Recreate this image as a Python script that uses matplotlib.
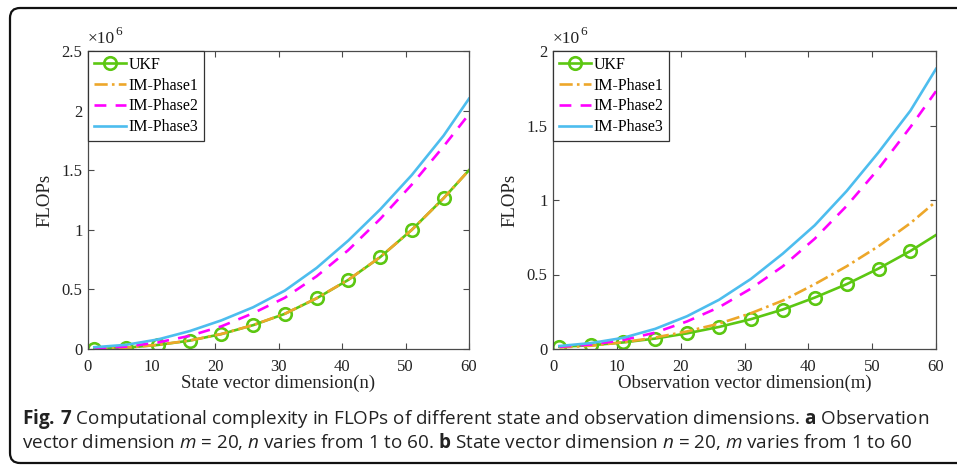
import matplotlib as mpl
mpl.use('Agg')
import matplotlib.pyplot as plt
from matplotlib.patches import FancyBboxPatch
from matplotlib.transforms import IdentityTransform

W, H = 957, 465

dim = [1, 6, 11, 16, 21, 26, 31, 36, 41, 46, 51, 56, 60]

# (a) m = 20, n varies -- FLOPs in units of 1e6
ukf_a = [0.0, 0.011, 0.034, 0.07, 0.125, 0.2, 0.295, 0.425, 0.58, 0.77, 1.0, 1.265, 1.5]
ph1_a = [0.0, 0.011, 0.035, 0.071, 0.126, 0.201, 0.296, 0.426, 0.581, 0.771, 1.0, 1.265, 1.5]
ph2_a = [0.005, 0.02, 0.055, 0.11, 0.19, 0.3, 0.43, 0.61, 0.83, 1.09, 1.38, 1.7, 1.97]
ph3_a = [0.015, 0.035, 0.08, 0.15, 0.24, 0.35, 0.49, 0.68, 0.91, 1.17, 1.46, 1.79, 2.1]

# (b) n = 20, m varies -- FLOPs in units of 1e6
ukf_b = [0.015, 0.025, 0.044, 0.07, 0.105, 0.148, 0.2, 0.265, 0.345, 0.435, 0.54, 0.658, 0.765]
ph1_b = [0.01, 0.022, 0.045, 0.077, 0.118, 0.17, 0.24, 0.325, 0.435, 0.555, 0.69, 0.845, 0.99]
ph2_b = [0.015, 0.03, 0.06, 0.11, 0.185, 0.28, 0.405, 0.555, 0.74, 0.96, 1.21, 1.49, 1.73]
ph3_b = [0.02, 0.04, 0.075, 0.135, 0.22, 0.33, 0.47, 0.64, 0.83, 1.06, 1.32, 1.6, 1.88]

labels = ['UKF', 'IM-Phase1', 'IM-Phase2', 'IM-Phase3']
xlabels = ['State vector dimension(n)', 'Observation vector dimension(m)']
ymax = [2.5, 2.0]

SERIF = 'Liberation Serif'
plt.rcParams['font.family'] = SERIF
plt.rcParams['mathtext.fontset'] = 'custom'
plt.rcParams['mathtext.rm'] = 'Open Sans'
plt.rcParams['mathtext.bf'] = 'Open Sans:bold'
plt.rcParams['mathtext.it'] = 'Open Sans:italic'

GREEN = '#5cc712'
ORANGE = '#eda72a'
MAGENTA = '#ff00ff'
BLUE = '#4dbdee'
AXCOL = '#4a4a4a'
TXT = '#222222'

fig = plt.figure(figsize=(W / 100, H / 100), dpi=100)
fig.patch.set_facecolor('white')

boxes = [(88, 469), (553, 936)]
top, bottom = 51, 349
series = [(ukf_a, ph1_a, ph2_a, ph3_a), (ukf_b, ph1_b, ph2_b, ph3_b)]

for i, (x0, x1) in enumerate(boxes):
    ax = fig.add_axes([x0 / W, 1 - bottom / H, (x1 - x0) / W, (bottom - top) / H])
    ukf, p1, p2, p3 = series[i]
    ax.plot(dim, ukf, color=GREEN, lw=1.9, marker='o', ms=9, mfc='none',
            mew=1.9, markevery=list(range(len(dim) - 1)), label=labels[0])
    ax.plot(dim, p1, color=ORANGE, lw=1.9, ls=(0, (5, 1.6, 1, 1.6)), label=labels[1])
    ax.plot(dim, p2, color=MAGENTA, lw=1.9, ls=(0, (4.5, 3.5)), label=labels[2])
    ax.plot(dim, p3, color=BLUE, lw=1.9, label=labels[3])

    ax.set_xlim(0, 60)
    ax.set_ylim(0, ymax[i])
    ax.set_xticks(range(0, 61, 10))
    yt = [k * 0.5 for k in range(int(ymax[i] / 0.5) + 1)]
    ax.set_yticks(yt)
    ax.set_yticklabels(['%g' % v for v in yt])
    ax.tick_params(direction='in', top=True, right=True, length=4, width=0.8,
                   color=AXCOL, labelsize=12, labelcolor=TXT, pad=4)
    ax.tick_params(axis='x', pad=7)
    for s in ax.spines.values():
        s.set_color(AXCOL)
        s.set_linewidth(0.9)

    ax.set_xlabel(xlabels[i], fontsize=13.5, labelpad=0, color=TXT)
    ax.set_ylabel('FLOPs', fontsize=13.5, labelpad=6, color=TXT)

    leg = ax.legend(loc='upper left', borderaxespad=0, fancybox=False,
                    framealpha=1, edgecolor='#333333', fontsize=11.5,
                    handlelength=2.0, handletextpad=0.2, labelspacing=0.31,
                    borderpad=0.35)
    leg.get_frame().set_linewidth(0.9)

    t = ax.text(0.0, 1.012, '\u00d710', transform=ax.transAxes, fontsize=12.5,
                ha='left', va='bottom', color=TXT)
    ax.annotate('6', xy=(1.0, 0.62), xycoords=t, fontsize=9.5, ha='left',
                va='bottom', color=TXT)

# caption
cap1 = (r'$\mathbf{Fig.\,7}$ Computational complexity in FLOPs of different state '
        r'and observation dimensions. $\mathbf{a}$ Observation')
cap2 = (r'vector dimension $m$ = 20, $n$ varies from 1 to 60. $\mathbf{b}$ State vector '
        r'dimension $n$ = 20, $m$ varies from 1 to 60')
fig.text(22 / W, 1 - 424 / H, cap1, fontfamily='Open Sans', fontsize=13.6,
         va='baseline', ha='left', color=TXT)
fig.text(22 / W, 1 - 448 / H, cap2, fontfamily='Open Sans', fontsize=13.6,
         va='baseline', ha='left', color=TXT)

# rounded frame around the figure (runs off the right edge)
frame = FancyBboxPatch((10, 2), 1100, 455, boxstyle='round,pad=0,rounding_size=10',
                       transform=IdentityTransform(), fill=False, lw=1.6,
                       ec='#111111')
fig.add_artist(frame)

fig.savefig('out.png', dpi=100, facecolor='white')
